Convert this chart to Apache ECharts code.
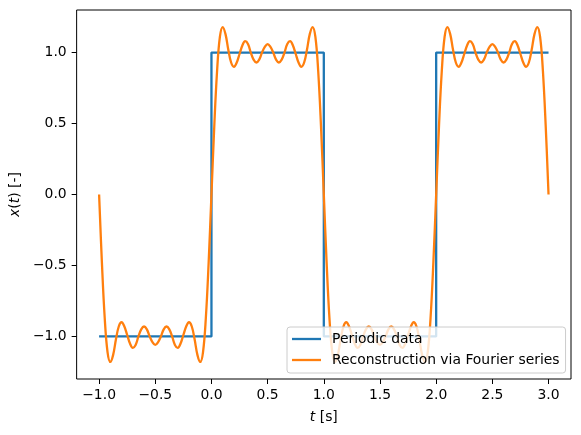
<!DOCTYPE html>
<html>
<head>
<meta charset="utf-8">
<script src="https://cdn.jsdelivr.net/npm/echarts@6/dist/echarts.min.js"></script>
<style>
  html, body { margin: 0; padding: 0; background: #fff; }
  #chart { width: 581px; height: 435px; }
</style>
</head>
<body>
<div id="chart"></div>
<script>
// ---- Data ----
// Periodic (square-wave) data
const periodicT = [-1, 0, 0, 1, 1, 2, 2, 3];
const periodicX = [-1, -1, 1, 1, -1, -1, 1, 1];

// Reconstruction via Fourier series: time grid
const reconT = [
  -1, -0.975, -0.95, -0.925, -0.9, -0.875, -0.85, -0.825, -0.8, -0.775,
  -0.75, -0.725, -0.7, -0.675, -0.65, -0.625, -0.6, -0.575, -0.55, -0.525,
  -0.5, -0.475, -0.45, -0.425, -0.4, -0.375, -0.35, -0.325, -0.3, -0.275,
  -0.25, -0.225, -0.2, -0.175, -0.15, -0.125, -0.1, -0.075, -0.05, -0.025,
  0, 0.025, 0.05, 0.075, 0.1, 0.125, 0.15, 0.175, 0.2, 0.225,
  0.25, 0.275, 0.3, 0.325, 0.35, 0.375, 0.4, 0.425, 0.45, 0.475,
  0.5, 0.525, 0.55, 0.575, 0.6, 0.625, 0.65, 0.675, 0.7, 0.725,
  0.75, 0.775, 0.8, 0.825, 0.85, 0.875, 0.9, 0.925, 0.95, 0.975,
  1, 1.025, 1.05, 1.075, 1.1, 1.125, 1.15, 1.175, 1.2, 1.225,
  1.25, 1.275, 1.3, 1.325, 1.35, 1.375, 1.4, 1.425, 1.45, 1.475,
  1.5, 1.525, 1.55, 1.575, 1.6, 1.625, 1.65, 1.675, 1.7, 1.725,
  1.75, 1.775, 1.8, 1.825, 1.85, 1.875, 1.9, 1.925, 1.95, 1.975,
  2, 2.025, 2.05, 2.075, 2.1, 2.125, 2.15, 2.175, 2.2, 2.225,
  2.25, 2.275, 2.3, 2.325, 2.35, 2.375, 2.4, 2.425, 2.45, 2.475,
  2.5, 2.525, 2.55, 2.575, 2.6, 2.625, 2.65, 2.675, 2.7, 2.725,
  2.75, 2.775, 2.8, 2.825, 2.85, 2.875, 2.9, 2.925, 2.95, 2.975,
  3
];

// Reconstruction values, segment by segment
const reconSeg1 = [ // t = -1 ... -0.025
  0, -0.48, -0.87, -1.11, -1.18, -1.13, -1.02, -0.93, -0.90, -0.93,
  -0.99, -1.05, -1.08, -1.06, -1.00, -0.95, -0.93, -0.95, -1.00, -1.04,
  -1.06, -1.04, -1.00, -0.95, -0.93, -0.95, -1.00, -1.06, -1.08, -1.05,
  -0.99, -0.93, -0.90, -0.93, -1.02, -1.13, -1.18, -1.11, -0.87, -0.48
];
const reconSeg2 = [ // t = 0 ... 0.975
  0, 0.48, 0.87, 1.11, 1.18, 1.13, 1.02, 0.93, 0.90, 0.93,
  0.99, 1.05, 1.08, 1.06, 1.00, 0.95, 0.93, 0.95, 1.00, 1.04,
  1.06, 1.04, 1.00, 0.95, 0.93, 0.95, 1.00, 1.06, 1.08, 1.05,
  0.99, 0.93, 0.90, 0.93, 1.02, 1.13, 1.18, 1.11, 0.87, 0.48
];
const reconSeg3 = [ // t = 1 ... 1.975
  0, -0.48, -0.87, -1.11, -1.18, -1.13, -1.02, -0.93, -0.90, -0.93,
  -0.99, -1.05, -1.08, -1.06, -1.00, -0.95, -0.93, -0.95, -1.00, -1.04,
  -1.06, -1.04, -1.00, -0.95, -0.93, -0.95, -1.00, -1.06, -1.08, -1.05,
  -0.99, -0.93, -0.90, -0.93, -1.02, -1.13, -1.18, -1.11, -0.87, -0.48
];
const reconSeg4 = [ // t = 2 ... 3
  0, 0.48, 0.87, 1.11, 1.18, 1.13, 1.02, 0.93, 0.90, 0.93,
  0.99, 1.05, 1.08, 1.06, 1.00, 0.95, 0.93, 0.95, 1.00, 1.04,
  1.06, 1.04, 1.00, 0.95, 0.93, 0.95, 1.00, 1.06, 1.08, 1.05,
  0.99, 0.93, 0.90, 0.93, 1.02, 1.13, 1.18, 1.11, 0.87, 0.48,
  0
];

// Tick labels
const xTicks = [-1, -0.5, 0, 0.5, 1, 1.5, 2, 2.5, 3];
const yTicks = [-1, -0.5, 0, 0.5, 1];

const seriesNames = ['Periodic data', 'Reconstruction via Fourier series'];

// ---- Build chart ----
const reconX = reconSeg1.concat(reconSeg2, reconSeg3, reconSeg4);
const periodicData = periodicT.map((t, i) => [t, periodicX[i]]);
const reconData = reconT.map((t, i) => [t, reconX[i]]);

const FONT = 'DejaVu Sans';
const FS = 13.9;
const fmt = v => (v < 0 ? '\u2212' : '') + Math.abs(v).toFixed(1);

const chart = echarts.init(document.getElementById('chart'), null, { renderer: 'canvas' });
chart.setOption({
  animation: false,
  backgroundColor: '#ffffff',
  textStyle: { fontFamily: FONT },
  grid: {
    left: 75, right: 10, top: 10, bottom: 56,
    show: true, borderColor: '#000', borderWidth: 1, backgroundColor: 'transparent'
  },
  legend: {
    orient: 'vertical',
    left: 287, top: 327,
    padding: [5, 6, 6, 5],
    icon: 'rect',
    itemWidth: 29, itemHeight: 2.3, itemGap: 7,
    backgroundColor: 'rgba(255,255,255,0.8)',
    borderColor: '#cccccc', borderWidth: 1, borderRadius: 3,
    textStyle: { fontFamily: FONT, fontSize: FS, color: '#000', padding: [0, 0, 0, 6] },
    data: seriesNames
  },
  xAxis: {
    type: 'value', min: -1.2, max: 3.2,
    name: '{i|t} [s]', nameLocation: 'middle', nameGap: 31,
    nameTextStyle: {
      fontFamily: FONT, fontSize: FS, color: '#000',
      rich: { i: { fontFamily: FONT, fontSize: FS, fontStyle: 'italic', color: '#000' } }
    },
    axisLine: { show: false, onZero: false },
    axisTick: { show: true, inside: false, length: 5, customValues: xTicks, lineStyle: { color: '#000', width: 1 } },
    axisLabel: { customValues: xTicks, margin: 9, formatter: fmt, fontFamily: FONT, fontSize: FS, color: '#000' },
    splitLine: { show: false }
  },
  yAxis: {
    type: 'value', min: -1.3, max: 1.3,
    name: '{i|x}({i|t}) [-]', nameLocation: 'middle', nameGap: 50,
    nameTextStyle: {
      fontFamily: FONT, fontSize: FS, color: '#000',
      rich: { i: { fontFamily: FONT, fontSize: FS, fontStyle: 'italic', color: '#000' } }
    },
    axisLine: { show: false, onZero: false },
    axisTick: { show: true, inside: false, length: 5, customValues: yTicks, lineStyle: { color: '#000', width: 1 } },
    axisLabel: { customValues: yTicks, margin: 10, formatter: fmt, fontFamily: FONT, fontSize: FS, color: '#000' },
    splitLine: { show: false }
  },
  series: [
    {
      name: seriesNames[0], type: 'line', data: periodicData,
      symbol: 'none', showSymbol: false,
      lineStyle: { color: '#1f77b4', width: 2.3 },
      itemStyle: { color: '#1f77b4' }
    },
    {
      name: seriesNames[1], type: 'line', data: reconData,
      symbol: 'none', showSymbol: false, smooth: 0.4,
      lineStyle: { color: '#ff7f0e', width: 2.3 },
      itemStyle: { color: '#ff7f0e' }
    }
  ]
});
</script>
</body>
</html>
